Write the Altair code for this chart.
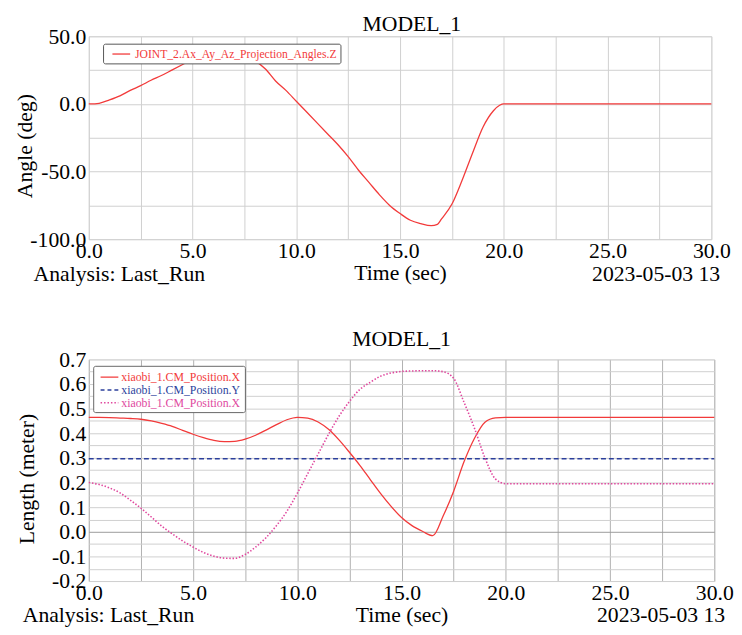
import altair as alt
import pandas as pd

# ---------------- data ----------------
# Top panel: JOINT_2 projection angle Z (deg) vs time (sec)
t_top = [0, 0.5, 1, 1.5, 2, 2.5, 3, 3.5, 4, 4.5,
         5, 5.5, 6, 6.5, 7, 7.5, 8, 8.5, 9, 9.5,
         10, 10.5, 11, 11.5, 12, 12.5, 13, 13.5, 14, 14.5,
         15, 15.5, 16, 16.5,
         16.8, 17, 17.5, 18, 18.5, 19, 19.5, 19.8, 20, 25, 30]
angle_z = [0, 0.5, 3, 6, 10, 13.5, 17.5, 21, 25, 29,
           33, 36, 38, 38.5, 38, 36, 32, 26, 17, 10,
           2, -6, -14, -22, -30, -39, -49, -58, -67, -75,
           -81, -86, -88.5, -90,
           -89, -85, -74, -56, -36, -17, -5, -1, 0, 0, 0]

# Bottom panel: CM positions (meter) vs time (sec)
t_bot = [0, 0.5, 1, 1.5, 2, 2.5, 3, 3.5, 4, 4.5,
         5, 5.5, 6, 6.5, 7, 7.5, 8, 8.5, 9, 9.5,
         10, 10.5, 11, 11.5, 12, 12.5, 13, 13.5, 14, 14.5,
         15, 15.5, 16, 16.5, 17, 17.5, 18, 18.5, 19, 19.5,
         20, 25, 30]
cm_pos_x = [0.465, 0.465, 0.464, 0.462, 0.460, 0.457, 0.450, 0.440, 0.428, 0.412,
            0.396, 0.382, 0.371, 0.366, 0.367, 0.376, 0.392, 0.413, 0.435, 0.455,
            0.465, 0.462, 0.446, 0.416, 0.373, 0.323, 0.270, 0.212, 0.155, 0.103,
            0.058, 0.025, 0.002, -0.016, 0.065, 0.165, 0.285, 0.380, 0.445, 0.463,
            0.465, 0.465, 0.465]
t_y = [0, 30]
cm_pos_y = [0.297, 0.297]
cm_pos_x2 = [0.200, 0.192, 0.178, 0.158, 0.128, 0.096, 0.060, 0.023, -0.008, -0.037,
             -0.062, -0.084, -0.099, -0.107, -0.108, -0.092, -0.062, -0.024, 0.025, 0.083,
             0.156, 0.236, 0.316, 0.396, 0.469, 0.529, 0.578, 0.607, 0.632, 0.645,
             0.651, 0.653, 0.654, 0.654, 0.650, 0.623, 0.525, 0.420, 0.300, 0.215,
             0.195, 0.195, 0.195]

top_legend = ["JOINT_2.Ax_Ay_Az_Projection_Angles.Z"]
bot_legend = ["xiaobi_1.CM_Position.X", "xiaobi_1.CM_Position.Y", "xiaobi_1.CM_Position.X"]
x_grid = [0, 2.5, 5, 7.5, 10, 12.5, 15, 17.5, 20, 22.5, 25, 27.5, 30]
y_top_grid = [-100, -75, -50, -25, 0, 25, 50]
y_bot_grid = [-0.2, -0.15, -0.1, -0.05, 0.0, 0.05, 0.1, 0.15, 0.2, 0.25, 0.3, 0.35,
              0.4, 0.45, 0.5, 0.55, 0.6, 0.65, 0.7]

RED = "#f23a3a"
BLUE = "#2b3f9c"
PINK = "#e0489e"
FONT = "Liberation Serif, Times New Roman, Times, DejaVu Serif, serif"
MINUS = "\u2212"

TW, TH = 632, 206
BW, BH = 635, 225

df_top = pd.DataFrame({"t": t_top, "v": angle_z})
df_bx = pd.DataFrame({"t": t_bot, "v": cm_pos_x})
df_by = pd.DataFrame({"t": t_y, "v": cm_pos_y})
df_bx2 = pd.DataFrame({"t": t_bot, "v": cm_pos_x2})
one = pd.DataFrame({"k": [0]})


def x_enc(grid_color):
    return alt.X(
        "t:Q",
        scale=alt.Scale(domain=[0, 30], nice=False, zero=False),
        axis=alt.Axis(
            values=x_grid,
            labelExpr=f"(datum.value % 5 == 0) ? replace(format(datum.value, '.1f'), '{MINUS}', '-') : ''",
            title="Time (sec)",
            titleFont=FONT, titleFontSize=22, titleFontWeight="normal", titleColor="#000",
            titlePadding=1,
            labelFont=FONT, labelFontSize=22, labelColor="#000", labelPadding=2,
            labelOverlap=False, labelFlush=False, labelBound=False,
            ticks=False, domain=False,
            grid=True, gridColor=grid_color, gridWidth=1,
        ),
    )


# ---------------- top panel ----------------
y_top = alt.Y(
    "v:Q",
    scale=alt.Scale(domain=[-100, 50], nice=False, zero=False),
    axis=alt.Axis(
        values=y_top_grid,
        labelExpr=f"(datum.value % 50 == 0) ? replace(format(datum.value, '.1f'), '{MINUS}', '-') : ''",
        title="Angle (deg)",
        titleFont=FONT, titleFontSize=22, titleFontWeight="normal", titleColor="#000",
        titleX=-53, titleY=111, titleAngle=270, titleBaseline="bottom",
        labelFont=FONT, labelFontSize=22, labelColor="#000", labelPadding=3,
        labelOverlap=False, labelFlush=False, labelBound=False,
        ticks=False, domain=False,
        grid=True, gridColor="#cfcfcf",
    ),
)

top_line = alt.Chart(df_top).mark_line(color=RED, strokeWidth=1.3, interpolate="monotone").encode(
    x=x_enc("#cfcfcf"), y=y_top
)

top_box = alt.Chart(one).mark_rect(fill="white", stroke="#555", strokeWidth=1, cornerRadius=2).encode(
    x=alt.value(15), x2=alt.value(256), y=alt.value(8), y2=alt.value(28)
)
top_sample = alt.Chart(one).mark_rule(color=RED, strokeWidth=1.3).encode(
    x=alt.value(24), x2=alt.value(42), y=alt.value(18)
)
top_text = alt.Chart(one).mark_text(
    align="left", baseline="middle", font=FONT, fontSize=11.8, color=RED
).encode(x=alt.value(47), y=alt.value(18), text=alt.value(top_legend[0]))

top_foot_l = alt.Chart(one).mark_text(
    align="left", baseline="top", font=FONT, fontSize=22, color="#000"
).encode(x=alt.value(-56), y=alt.value(TH + 25), text=alt.value("Analysis: Last_Run"))
top_foot_r = alt.Chart(one).mark_text(
    align="right", baseline="top", font=FONT, fontSize=22, color="#000"
).encode(x=alt.value(TW + 9), y=alt.value(TH + 25), text=alt.value("2023-05-03 13"))

top = alt.layer(top_line, top_box, top_sample, top_text, top_foot_l, top_foot_r).properties(
    width=TW, height=TH,
    title=alt.TitleParams("MODEL_1", font=FONT, fontSize=22, fontWeight="normal",
                          color="#000", offset=-11, dx=12),
)

# ---------------- bottom panel ----------------
y_bot = alt.Y(
    "v:Q",
    scale=alt.Scale(domain=[-0.2, 0.7], nice=False, zero=False),
    axis=alt.Axis(
        values=y_bot_grid,
        labelExpr=f"(round(datum.value * 100) % 10 == 0) ? replace(format(datum.value, '.1f'), '{MINUS}', '-') : ''",
        title="Length (meter)",
        titleFont=FONT, titleFontSize=22, titleFontWeight="normal", titleColor="#000",
        titleX=-51, titleY=121, titleAngle=270, titleBaseline="bottom",
        labelFont=FONT, labelFontSize=22, labelColor="#000", labelPadding=3,
        labelOverlap=False, labelFlush=False, labelBound=False,
        ticks=False, domain=False,
        grid=True,
        gridColor={"condition": {"test": "abs(datum.value) < 0.001", "value": "#9a9a9a"},
                   "value": "#cfcfcf"},
    ),
)
x_bot = x_enc("#b0b0b0")

b_x = alt.Chart(df_bx).mark_line(color=RED, strokeWidth=1.3, interpolate="monotone").encode(
    x=x_bot, y=y_bot)
b_y = alt.Chart(df_by).mark_line(color=BLUE, strokeWidth=1.5, strokeDash=[5, 3]).encode(
    x=x_bot, y=y_bot)
b_x2 = alt.Chart(df_bx2).mark_line(color=PINK, strokeWidth=1.6, strokeDash=[1.5, 1.8],
                                   interpolate="monotone").encode(x=x_bot, y=y_bot)

b_box = alt.Chart(one).mark_rect(fill="white", stroke="#666", strokeWidth=1, cornerRadius=2).encode(
    x=alt.value(5), x2=alt.value(159), y=alt.value(7), y2=alt.value(54)
)
leg_layers = []
for i, (lab, col, dash) in enumerate(zip(bot_legend, [RED, BLUE, PINK], [[1, 0], [4, 3], [1.5, 2]])):
    yy = 18 + i * 13
    leg_layers.append(
        alt.Chart(one).mark_rule(color=col, strokeWidth=1.4, strokeDash=dash).encode(
            x=alt.value(12), x2=alt.value(30), y=alt.value(yy))
    )
    leg_layers.append(
        alt.Chart(one).mark_text(align="left", baseline="middle", font=FONT, fontSize=12, color=col).encode(
            x=alt.value(33), y=alt.value(yy), text=alt.value(lab))
    )

b_foot_l = alt.Chart(one).mark_text(
    align="left", baseline="top", font=FONT, fontSize=22, color="#000"
).encode(x=alt.value(-67), y=alt.value(BH + 25), text=alt.value("Analysis: Last_Run"))
b_foot_r = alt.Chart(one).mark_text(
    align="right", baseline="top", font=FONT, fontSize=22, color="#000"
).encode(x=alt.value(BW + 11), y=alt.value(BH + 25), text=alt.value("2023-05-03 13"))

bottom = alt.layer(b_x, b_y, b_x2, b_box, *leg_layers, b_foot_l, b_foot_r).properties(
    width=BW, height=BH,
    title=alt.TitleParams("MODEL_1", font=FONT, fontSize=22, fontWeight="normal",
                          color="#000", offset=-2),
)

chart = alt.vconcat(top, bottom, spacing=42).properties(
    padding={"left": 5, "top": 0, "right": 0, "bottom": 0}
).configure_view(stroke="#8a8a8a", strokeWidth=1).configure(background="white")

chart.save("out.html", embed_options={"renderer": "svg", "actions": False})
